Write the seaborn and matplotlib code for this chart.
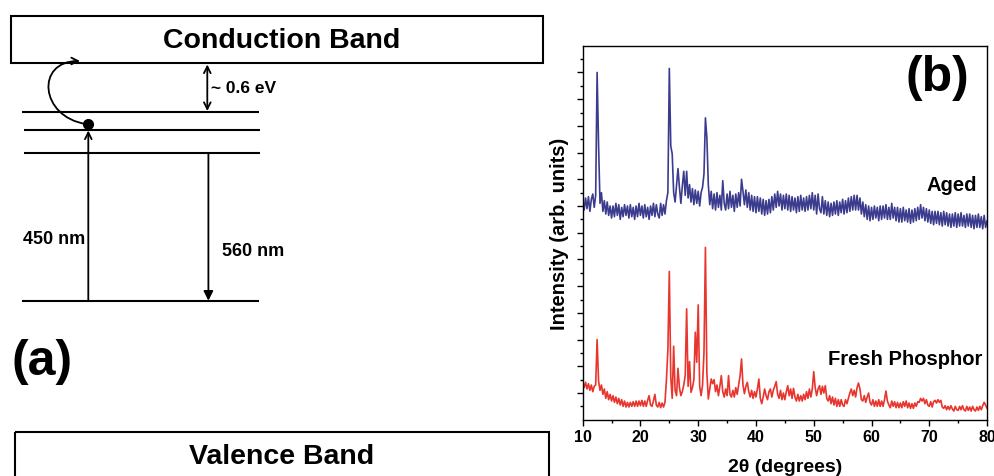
import numpy as np
import pandas as pd
import matplotlib
matplotlib.use("Agg")
import matplotlib.pyplot as plt
import seaborn as sns
from matplotlib.patches import Rectangle, FancyArrowPatch
from matplotlib.path import Path

# ---------------- data ----------------
two_theta_start, two_theta_step = 10.0, 0.25
aged_intensity = [
    16.4, 15.7, 16.6, 15.8,   16.7, 15.6, 16.5, 16.9,   15.9, 16.8, 26.0, 20.6,   # 10-12
    16.2, 17.0, 15.6, 16.4,   15.4, 16.3, 15.3, 16.0,   15.1, 16.0, 15.2, 16.2,   # 13-15
    15.3, 16.1, 15.0, 15.9,   15.2, 16.1, 15.3, 16.0,   15.1, 16.1, 15.2, 15.9,   # 16-18
    15.0, 16.0, 15.2, 16.2,   15.3, 16.0, 15.1, 16.1,   15.2, 15.9, 15.0, 16.0,   # 19-21
    15.3, 16.2, 15.2, 16.1,   15.4, 15.1, 16.2, 15.3,   16.1, 15.4, 16.4, 17.0,   # 22-24
    26.3, 20.5, 19.9, 17.0,   16.3, 17.6, 18.8, 17.4,   16.2, 17.5, 18.6, 16.8,   # 25-27
    18.6, 16.6, 17.6, 16.3,   17.3, 16.1, 17.2, 16.2,   17.1, 16.0, 17.0, 17.4,   # 28-30
    18.4, 22.6, 21.1, 17.6,   16.1, 17.1, 15.8, 16.9,   15.7, 17.0, 15.9, 16.8,   # 31-33
    15.7, 17.9, 16.2, 15.7,   16.9, 15.8, 17.1, 15.9,   16.8, 15.6, 16.9, 15.9,   # 34-36
    17.0, 16.0, 18.0, 17.1,   16.1, 17.2, 15.9, 17.0,   15.7, 16.8, 15.6, 16.7,   # 37-39
    15.5, 16.7, 15.6, 16.6,   15.4, 16.5, 15.3, 16.4,   15.4, 16.5, 15.5, 16.7,   # 40-42
    15.7, 16.9, 15.9, 17.1,   16.0, 16.9, 15.7, 16.8,   15.8, 16.9, 15.7, 16.8,   # 43-45
    15.6, 16.7, 15.7, 16.6,   15.5, 16.7, 15.6, 16.8,   15.7, 16.6, 15.6, 16.7,   # 46-48
    15.7, 16.8, 15.8, 17.0,   15.7, 16.8, 15.4, 16.9,   15.8, 15.5, 16.7, 15.4,   # 49-51
    16.4, 15.3, 16.3, 15.2,   16.2, 15.3, 16.3, 15.4,   16.4, 15.3, 16.3, 15.5,   # 52-54
    16.5, 15.4, 16.4, 15.5,   16.6, 15.6, 16.7, 15.7,   16.8, 15.7, 16.8, 15.7,   # 55-57
    16.6, 15.4, 16.3, 15.2,   16.1, 15.0, 16.0, 14.9,   15.9, 15.0, 16.0, 15.1,   # 58-60
    15.9, 14.9, 16.0, 15.0,   16.0, 15.1, 16.1, 15.0,   15.9, 15.0, 16.2, 15.1,   # 61-63
    15.9, 14.9, 15.9, 14.8,   15.8, 14.8, 15.9, 14.9,   15.7, 14.8, 15.8, 14.7,   # 64-66
    15.7, 14.8, 15.8, 14.9,   15.9, 15.0, 16.1, 15.1,   15.9, 14.9, 15.8, 14.8,   # 67-69
    15.7, 14.7, 15.6, 14.6,   15.6, 14.7, 15.6, 14.6,   15.5, 14.5, 15.6, 14.6,   # 70-72
    15.5, 14.5, 15.4, 14.4,   15.4, 14.5, 15.5, 14.4,   15.4, 14.5, 15.5, 14.5,   # 73-75
    15.3, 14.4, 15.4, 14.5,   15.4, 14.4, 15.3, 14.3,   15.3, 14.4, 15.4, 14.4,   # 76-78
    15.2, 14.3, 15.3, 14.4,   14.9,                                               # 79-80
]
fresh_intensity = [
    2.9, 2.4, 2.8, 2.3,    2.7, 2.2, 2.6, 2.1,    2.5, 2.6, 6.0, 2.9,       # 10-12
    2.2, 2.6, 1.9, 2.3,    1.6, 2.1, 1.5, 1.9,    1.4, 1.8, 1.3, 1.7,       # 13-15
    1.2, 1.6, 1.1, 1.5,    1.0, 1.4, 0.95, 1.3,   0.95, 1.3, 1.0, 1.35,     # 16-18
    1.0, 1.4, 1.0, 1.4,    1.05, 1.45, 1.0, 1.4,  1.0, 1.45, 1.8, 1.1,      # 19-21
    1.0, 1.4, 1.9, 1.1,    0.95, 1.3, 0.9, 1.25,  0.95, 1.3, 3.0, 5.2,      # 22-24
    11.1, 3.2, 1.6, 5.5,   2.2, 1.8, 3.85, 2.4,   1.8, 2.1, 2.6, 3.3,       # 25-27
    8.3, 2.5, 4.35, 2.05,  2.4, 3.0, 6.55, 4.3,   8.6, 2.5, 1.8, 2.6,       # 28-30
    5.05, 12.9, 3.5, 1.55, 2.3, 3.05, 2.7, 3.0,   2.1, 2.6, 1.8, 2.5,       # 31-33
    3.3, 2.1, 1.7, 2.3,    1.8, 3.3, 1.9, 1.7,    2.2, 1.7, 2.4, 1.9,       # 34-36
    2.6, 3.3, 4.55, 2.6,   1.95, 2.5, 2.8, 2.1,   1.7, 2.2, 1.6, 2.1,       # 37-39
    1.7, 2.3, 3.05, 1.6,   1.2, 1.7, 2.3, 1.8,    1.5, 2.1, 2.3, 1.7,       # 40-42
    2.2, 2.5, 2.85, 1.9,   1.6, 2.2, 1.5, 2.0,    1.5, 2.1, 2.55, 1.8,      # 43-45
    2.3, 1.6, 2.35, 1.7,   1.4, 1.9, 1.4, 1.8,    1.4, 1.9, 1.5, 2.1,       # 46-48
    1.6, 2.3, 1.7, 2.3,    3.6, 2.4, 1.8, 2.3,    2.55, 1.9, 2.5, 2.0,      # 49-51
    2.55, 1.6, 1.4, 1.8,   1.2, 1.7, 1.1, 1.6,    1.0, 1.5, 1.0, 1.5,       # 52-54
    1.1, 1.0, 1.5, 1.2,    1.6, 2.0, 2.3, 1.8,    2.2, 1.7, 2.4, 2.75,      # 55-57
    2.3, 1.5, 1.4, 1.8,    1.3, 1.7, 2.0, 1.3,    1.1, 1.5, 1.0, 1.4,       # 58-60
    1.0, 1.5, 1.0, 1.4,    1.0, 1.5, 2.15, 1.4,   1.1, 0.9, 1.4, 1.0,       # 61-63
    1.35, 0.9, 1.3, 0.9,   1.25, 0.9, 1.35, 1.0,  1.4, 0.9, 1.25, 0.85,     # 64-66
    1.2, 0.85, 1.25, 1.0,  1.35, 1.3, 1.6, 1.4,   1.6, 1.2, 1.5, 1.1,       # 67-69
    1.0, 1.35, 0.95, 1.35, 1.45, 1.25, 1.5, 1.3,  1.45, 0.95, 0.85, 1.05,   # 70-72
    0.75, 1.0, 0.75, 1.05, 0.8, 0.65, 1.0, 0.75,  0.7, 1.0, 0.75, 1.05,     # 73-75
    0.75, 0.65, 1.0, 0.7,  0.95, 0.65, 1.0, 0.75, 0.65, 0.95, 0.7, 1.0,     # 76-78
    0.75, 1.05, 1.3, 1.1,  0.85,                                            # 79-80
]
series_names = ["Aged", "Fresh Phosphor"]
series_colors = ["#3c3c8e", "#e8352d"]
x_major_ticks = [10, 20, 30, 40, 50, 60, 70, 80]
x_minor_ticks = [15, 25, 35, 45, 55, 65, 75]

two_theta = two_theta_start + two_theta_step * np.arange(len(aged_intensity))
df = pd.concat([
    pd.DataFrame({"two_theta": two_theta, "intensity": aged_intensity, "sample": series_names[0]}),
    pd.DataFrame({"two_theta": two_theta, "intensity": fresh_intensity, "sample": series_names[1]}),
], ignore_index=True)

# ---------------- style ----------------
sns.set_theme(style="white")
plt.rcParams['font.family'] = ['Liberation Sans', 'DejaVu Sans']
plt.rcParams['font.weight'] = 'bold'
plt.rcParams['axes.labelweight'] = 'bold'
plt.rcParams['text.color'] = 'black'
plt.rcParams['axes.labelcolor'] = 'black'
plt.rcParams['xtick.color'] = 'black'
plt.rcParams['ytick.color'] = 'black'

fig = plt.figure(figsize=(9.95, 4.77), dpi=100)

# ---------------- panel (a): energy diagram, pixel coordinates ----------------
ax0 = fig.add_axes([0, 0, 1, 1])
ax0.set_xlim(0, 995)
ax0.set_ylim(477, 0)
ax0.axis('off')

lw = 1.5
ax0.add_patch(Rectangle((11.3, 17.3), 531.7, 46.7, fill=False, lw=lw, ec='black'))
ax0.text(281.5, 41, "Conduction Band", ha='center', va='center', fontsize=20.5, fontweight='bold')
ax0.add_patch(Rectangle((14.8, 432.7), 534.2, 70, fill=False, lw=lw, ec='black'))
ax0.text(281.5, 457, "Valence Band", ha='center', va='center', fontsize=20.5, fontweight='bold')

for (x0, x1, y) in [(21.9, 259, 113.3), (23.7, 260, 131), (23.7, 260, 154.3), (21.9, 259, 301.7)]:
    ax0.plot([x0, x1], [y, y], color='black', lw=lw, solid_capstyle='butt')

ax0.annotate('', xy=(207.3, 65.5), xytext=(207.3, 112),
             arrowprops=dict(arrowstyle='<->', lw=1.3, color='black', shrinkA=0, shrinkB=0, mutation_scale=12))
ax0.text(211, 88.5, "~ 0.6 eV", ha='left', va='center', fontsize=12.5, fontweight='bold')

ax0.annotate('', xy=(88.3, 131.5), xytext=(88.3, 301.7),
             arrowprops=dict(arrowstyle='->', lw=1.3, color='black', shrinkA=0, shrinkB=0, mutation_scale=12))
ax0.plot([88.3], [125.3], 'o', color='black', ms=7)
ax0.annotate('', xy=(208.4, 301.7), xytext=(208.4, 154.3),
             arrowprops=dict(arrowstyle='-|>', lw=1.3, color='black', fc='black', shrinkA=0, shrinkB=0, mutation_scale=14))
ax0.text(23, 239.5, "450 nm", ha='left', va='center', fontsize=13, fontweight='bold')
ax0.text(221.5, 252, "560 nm", ha='left', va='center', fontsize=13, fontweight='bold')

curve = Path([(86, 125), (40, 118), (35, 62), (80, 62)],
             [Path.MOVETO, Path.CURVE4, Path.CURVE4, Path.CURVE4])
ax0.add_patch(FancyArrowPatch(path=curve, arrowstyle='->', lw=1.3, color='black', mutation_scale=12))

ax0.text(12, 362, "(a)", ha='left', va='center', fontsize=36, fontweight='bold')
ax0.text(937.5, 78, "(b)", ha='center', va='center', fontsize=36, fontweight='bold')

# ---------------- panel (b): XRD ----------------
ax = fig.add_axes([0.5856, 0.118, 0.4064, 0.784])
ax.patch.set_alpha(0)
sns.lineplot(data=df, x="two_theta", y="intensity", hue="sample", hue_order=series_names,
             palette=series_colors, estimator=None, sort=False, legend=False, lw=1.2, ax=ax)
ax.set_xlim(10, 80)
ax.set_ylim(0, 28)
ax.set_xticks(x_major_ticks)
ax.set_xticks(x_minor_ticks, minor=True)
ax.set_yticks(list(range(2, 28, 2)))
ax.set_yticks(list(range(1, 28, 2)), minor=True)
ax.set_yticklabels([])
ax.tick_params(which='both', direction='out', bottom=True, left=True, color='black', width=1.0)
ax.tick_params(which='major', length=4.0, labelsize=11.5, pad=3)
ax.tick_params(which='minor', length=2.5)
for lab in ax.get_xticklabels():
    lab.set_fontweight('bold')
for s in ax.spines.values():
    s.set_color('black')
    s.set_linewidth(1.0)
ax.set_xlabel("2θ (degrees)", fontsize=14, fontweight='bold', labelpad=10)
ax.set_ylabel("Intensity (arb. units)", fontsize=14.5, fontweight='bold', labelpad=3)

ax0.text(977, 191, series_names[0], ha='right', va='baseline', fontsize=14.5, fontweight='bold')
ax0.text(982, 365, series_names[1], ha='right', va='baseline', fontsize=14.5, fontweight='bold')

fig.savefig("out.png", dpi=100)
